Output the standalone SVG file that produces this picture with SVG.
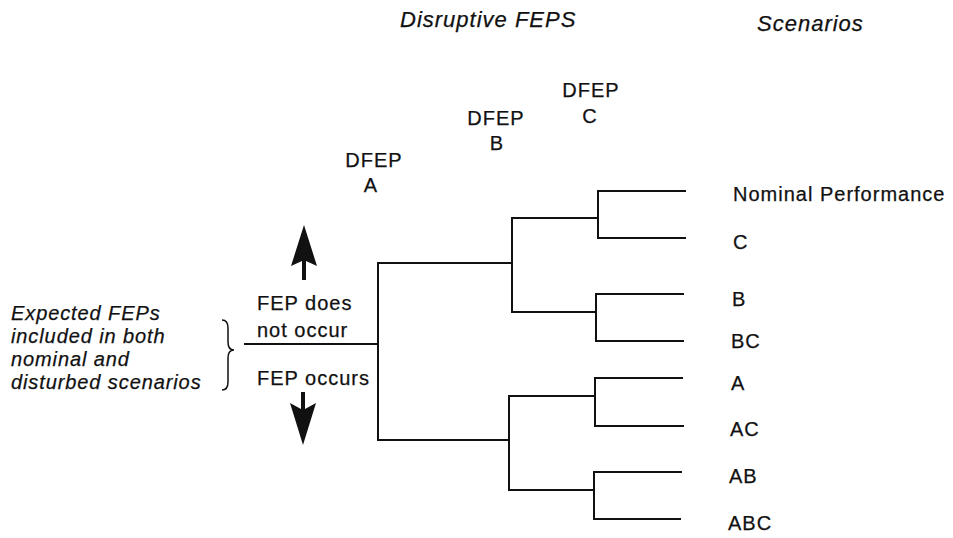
<svg xmlns="http://www.w3.org/2000/svg" width="953" height="538" viewBox="0 0 953 538">
<style>
  text { font-family: "Liberation Sans", Arial, sans-serif; font-size: 20px; fill: #111; letter-spacing: 1px; stroke: #111; stroke-width: 0.25; }
  .hdr { font-size: 22px; font-style: italic; letter-spacing: 1px; }
  .it { font-style: italic; letter-spacing: 0.9px; }
  .mid { text-anchor: middle; }
  .ln { stroke: #111; stroke-width: 2; fill: none; stroke-linecap: square; }
  .arr { fill: #111; stroke: none; }
</style>
<rect width="953" height="538" fill="#fff"/>

<g id="header-disruptive"><text class="hdr" x="400" y="27">Disruptive FEPS</text></g>
<g id="header-scenarios"><text class="hdr" x="757" y="31">Scenarios</text></g>

<g id="dfep-a"><text class="mid" x="374" y="167">DFEP</text><text class="mid" x="371" y="192">A</text></g>
<g id="dfep-b"><text class="mid" x="496" y="125">DFEP</text><text class="mid" x="497" y="150">B</text></g>
<g id="dfep-c"><text class="mid" x="591" y="97">DFEP</text><text class="mid" x="590" y="123">C</text></g>

<g id="expected-feps">
  <text class="it" x="11" y="320">Expected FEPs</text>
  <text class="it" x="11" y="343">included in both</text>
  <text class="it" x="11" y="366">nominal and</text>
  <text class="it" x="11" y="389">disturbed scenarios</text>
  <path d="M222,320 Q228,320 228,328 L228,342 Q228,350 234,350 Q228,350 228,358 L228,382 Q228,390 222,390" stroke="#111" stroke-width="1.5" fill="none"/>
</g>

<g id="fep-not-occur">
  <polygon class="arr" points="304,225 317,266 306,261 306,280 302,280 302,261 291,266"/>
  <text x="257" y="310">FEP does</text>
  <text x="257" y="337">not occur</text>
</g>
<g id="fep-occurs">
  <text x="257" y="385">FEP occurs</text>
  <polygon class="arr" points="303,445 316,403 305,409 305,392 301,392 301,409 290,403"/>
</g>

<g id="scen-nominal"><text x="733" y="201">Nominal Performance</text></g>
<g id="scen-c"><text x="733" y="249">C</text></g>
<g id="scen-b"><text x="732" y="306">B</text></g>
<g id="scen-bc"><text x="731" y="348">BC</text></g>
<g id="scen-a"><text x="731" y="390">A</text></g>
<g id="scen-ac"><text x="730" y="436">AC</text></g>
<g id="scen-ab"><text x="729" y="483">AB</text></g>
<g id="scen-abc"><text x="728" y="530">ABC</text></g>

<g id="connectors">
  <path class="ln" d="M245,344 H378"/>
  <path class="ln" d="M512,263 H378 V440 H509"/>
  <path class="ln" d="M598,218 H512 V312 H596"/>
  <path class="ln" d="M595,396 H509 V490 H594"/>
  <path class="ln" d="M685,191 H598 V238 H685"/>
  <path class="ln" d="M683,294 H596 V341 H683"/>
  <path class="ln" d="M682,378 H595 V426 H683"/>
  <path class="ln" d="M681,472 H594 V519 H680"/>
</g>
</svg>
